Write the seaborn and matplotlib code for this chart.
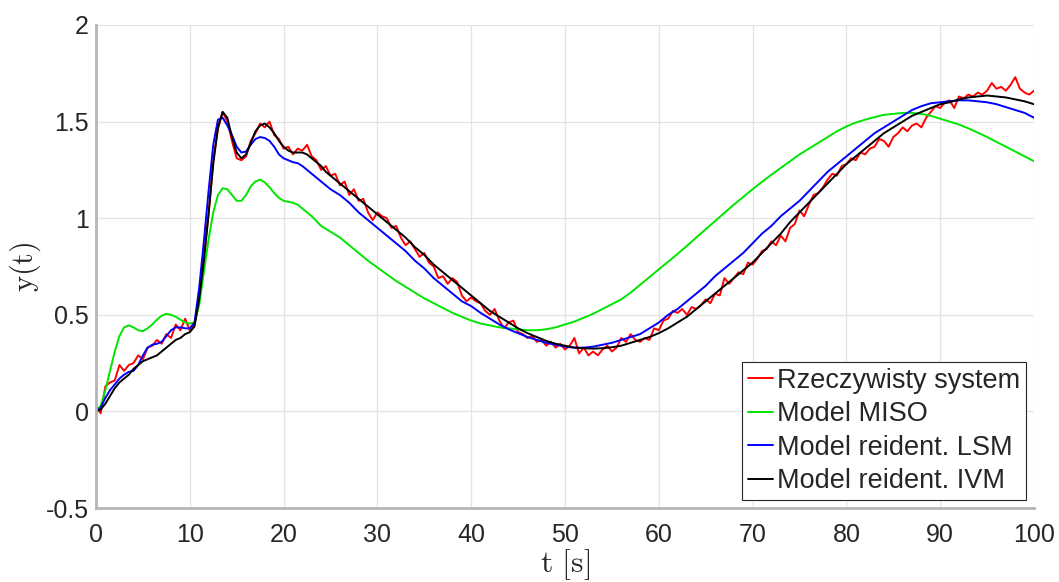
import numpy as np
import pandas as pd
import matplotlib
matplotlib.use("Agg")
import matplotlib.pyplot as plt
import seaborn as sns

# Rzeczywisty system (pomiar z szumem), krok 0.5 s
real_y = [
    0.03, -0.01, 0.13, 0.15, 0.16, 0.24, 0.21, 0.24, 0.25, 0.29,
    0.27, 0.33, 0.34, 0.37, 0.35, 0.40, 0.38, 0.45, 0.42, 0.48,
    0.42, 0.45, 0.57, 0.80, 1.02, 1.30, 1.46, 1.55, 1.50, 1.40,
    1.31, 1.30, 1.32, 1.40, 1.44, 1.49, 1.47, 1.50, 1.43, 1.41,
    1.36, 1.37, 1.33, 1.36, 1.35, 1.38, 1.32, 1.30, 1.25, 1.27,
    1.22, 1.23, 1.17, 1.19, 1.12, 1.15, 1.09, 1.10, 1.03, 0.99,
    1.03, 1.01, 1.00, 0.95, 0.96, 0.90, 0.86, 0.88, 0.84, 0.80,
    0.82, 0.77, 0.75, 0.69, 0.70, 0.66, 0.69, 0.67, 0.60, 0.57,
    0.59, 0.57, 0.56, 0.52, 0.50, 0.53, 0.47, 0.43, 0.46, 0.47,
    0.41, 0.40, 0.38, 0.39, 0.36, 0.37, 0.34, 0.36, 0.33, 0.35,
    0.32, 0.34, 0.38, 0.30, 0.33, 0.29, 0.31, 0.29, 0.32, 0.34,
    0.31, 0.33, 0.38, 0.36, 0.40, 0.37, 0.36, 0.38, 0.37, 0.43,
    0.42, 0.47, 0.48, 0.52, 0.51, 0.53, 0.50, 0.54, 0.53, 0.55,
    0.58, 0.56, 0.61, 0.60, 0.69, 0.66, 0.69, 0.72, 0.71, 0.77,
    0.76, 0.79, 0.83, 0.84, 0.88, 0.86, 0.91, 0.88, 0.95, 0.97,
    1.04, 1.01, 1.07, 1.12, 1.13, 1.16, 1.20, 1.23, 1.22, 1.27,
    1.28, 1.31, 1.30, 1.34, 1.33, 1.36, 1.37, 1.41, 1.40, 1.37,
    1.42, 1.44, 1.47, 1.45, 1.48, 1.49, 1.47, 1.52, 1.55, 1.58,
    1.57, 1.60, 1.61, 1.57, 1.63, 1.62, 1.64, 1.63, 1.65, 1.64,
    1.66, 1.70, 1.67, 1.68, 1.66, 1.69, 1.73, 1.67, 1.65, 1.64,
    1.66,
]
real_t = np.linspace(0, 100, len(real_y))

# modele - czasy wspolne
model_t = [
    0, 0.5, 1, 1.5, 2, 2.5, 3, 3.5, 4, 4.5, 5, 5.5, 6, 6.5, 7, 7.5, 8, 8.5, 9, 9.5,
    10, 10.5, 11, 11.5, 12, 12.5, 13, 13.5, 14, 14.5, 15, 15.5, 16, 16.5, 17, 17.5,
    18, 18.5, 19, 19.5, 20, 20.5, 21, 21.5, 22, 22.5, 23, 23.5, 24, 24.5, 25,
    26, 27, 28, 29, 30, 31, 32, 33, 34, 35, 36, 37, 38, 39, 40, 41, 42, 43, 44, 45,
    46, 47, 48, 49, 50, 51, 52, 53, 54, 55, 56, 57, 58, 59, 60, 61, 62, 63, 64, 65,
    66, 67, 68, 69, 70, 71, 72, 73, 74, 75, 76, 77, 78, 79, 80, 81, 82, 83, 84, 85,
    86, 87, 88, 89, 90, 91, 92, 93, 94, 95, 96, 97, 98, 99, 100,
]

miso_y = [
    0.00, 0.03, 0.11, 0.21, 0.31, 0.39, 0.435, 0.445, 0.435, 0.42, 0.415, 0.43, 0.45, 0.475, 0.495, 0.505, 0.50, 0.49, 0.475, 0.46,
    0.455, 0.46, 0.55, 0.72, 0.89, 1.03, 1.12, 1.155, 1.15, 1.12, 1.09, 1.09, 1.12, 1.165, 1.19, 1.20,
    1.185, 1.16, 1.13, 1.105, 1.09, 1.085, 1.08, 1.07, 1.05, 1.03, 1.01, 0.985, 0.96, 0.945, 0.93,
    0.90, 0.86, 0.82, 0.78, 0.745, 0.71, 0.675, 0.645, 0.615, 0.585, 0.56, 0.535, 0.51, 0.49, 0.47, 0.455, 0.445, 0.435, 0.43, 0.425,
    0.42, 0.42, 0.425, 0.435, 0.45, 0.465, 0.485, 0.505, 0.53, 0.555, 0.58, 0.615, 0.655, 0.695, 0.735, 0.775, 0.815, 0.857, 0.90, 0.943,
    0.985, 1.028, 1.07, 1.11, 1.15, 1.188, 1.225, 1.26, 1.295, 1.33, 1.36, 1.39, 1.42, 1.45, 1.475, 1.495, 1.51, 1.523, 1.535, 1.54,
    1.545, 1.545, 1.54, 1.53, 1.515, 1.50, 1.485, 1.465, 1.443, 1.42, 1.395, 1.37, 1.345, 1.32, 1.295,
]

lsm_y = [
    0.00, 0.02, 0.07, 0.11, 0.14, 0.17, 0.19, 0.205, 0.21, 0.24, 0.29, 0.33, 0.345, 0.35, 0.36, 0.39, 0.42, 0.435, 0.435, 0.43,
    0.43, 0.46, 0.64, 0.88, 1.14, 1.38, 1.51, 1.52, 1.48, 1.43, 1.37, 1.34, 1.345, 1.38, 1.41, 1.42,
    1.415, 1.40, 1.37, 1.33, 1.31, 1.30, 1.29, 1.285, 1.27, 1.25, 1.23, 1.21, 1.19, 1.17, 1.15,
    1.12, 1.08, 1.03, 0.99, 0.95, 0.91, 0.87, 0.83, 0.78, 0.74, 0.69, 0.65, 0.61, 0.57, 0.545, 0.51, 0.48, 0.45, 0.425, 0.405,
    0.385, 0.37, 0.355, 0.345, 0.335, 0.33, 0.33, 0.335, 0.345, 0.355, 0.37, 0.385, 0.40, 0.43, 0.46, 0.50, 0.53, 0.57, 0.61, 0.65,
    0.70, 0.74, 0.78, 0.82, 0.87, 0.92, 0.96, 1.01, 1.05, 1.09, 1.14, 1.19, 1.24, 1.28, 1.32, 1.36, 1.40, 1.44, 1.47, 1.50,
    1.53, 1.56, 1.58, 1.595, 1.60, 1.605, 1.61, 1.61, 1.605, 1.60, 1.59, 1.575, 1.56, 1.545, 1.52,
]

ivm_y = [
    0.00, 0.01, 0.04, 0.08, 0.12, 0.15, 0.17, 0.19, 0.22, 0.24, 0.26, 0.27, 0.28, 0.29, 0.31, 0.33, 0.35, 0.37, 0.38, 0.40,
    0.41, 0.44, 0.58, 0.78, 1.02, 1.28, 1.47, 1.55, 1.52, 1.42, 1.34, 1.31, 1.33, 1.39, 1.45, 1.48,
    1.49, 1.47, 1.44, 1.40, 1.37, 1.35, 1.34, 1.34, 1.34, 1.33, 1.31, 1.29, 1.27, 1.24, 1.22,
    1.18, 1.14, 1.10, 1.06, 1.02, 0.98, 0.94, 0.90, 0.85, 0.81, 0.76, 0.72, 0.68, 0.64, 0.60, 0.56, 0.52, 0.49, 0.46, 0.43,
    0.405, 0.385, 0.365, 0.35, 0.34, 0.33, 0.327, 0.325, 0.327, 0.332, 0.34, 0.355, 0.37, 0.385, 0.405, 0.43, 0.46, 0.49, 0.53, 0.57,
    0.61, 0.65, 0.69, 0.73, 0.77, 0.82, 0.87, 0.92, 0.98, 1.03, 1.08, 1.13, 1.18, 1.23, 1.28, 1.32, 1.36, 1.40, 1.44, 1.47,
    1.50, 1.53, 1.55, 1.57, 1.59, 1.60, 1.615, 1.625, 1.63, 1.635, 1.63, 1.625, 1.615, 1.605, 1.59,
]

labels = ["Rzeczywisty system", "Model MISO", "Model reident. LSM", "Model reident. IVM"]
colors = ["#ff0000", "#00e600", "#0000ff", "#000000"]

df = pd.concat([
    pd.DataFrame({"t": real_t, "y": real_y, "seria": labels[0]}),
    pd.DataFrame({"t": model_t, "y": miso_y, "seria": labels[1]}),
    pd.DataFrame({"t": model_t, "y": lsm_y, "seria": labels[2]}),
    pd.DataFrame({"t": model_t, "y": ivm_y, "seria": labels[3]}),
])

sns.set_theme(style="whitegrid")
plt.rcParams["font.family"] = ["Liberation Sans", "DejaVu Sans"]
plt.rcParams["mathtext.fontset"] = "cm"

fig, ax = plt.subplots(figsize=(10.59, 5.82), dpi=100)
fig.subplots_adjust(left=96 / 1059, right=1034 / 1059, bottom=1 - 508 / 582, top=1 - 25 / 582)

sns.lineplot(data=df, x="t", y="y", hue="seria", hue_order=labels, palette=colors,
             estimator=None, sort=False, linewidth=1.4, ax=ax)

ax.set_xlim(0, 100)
ax.set_ylim(-0.5, 2)
ax.set_xticks(np.arange(0, 101, 10))
ax.set_yticks([-0.5, 0, 0.5, 1, 1.5, 2])
ax.set_yticklabels(["-0.5", "0", "0.5", "1", "1.5", "2"])
ax.grid(True, color="#e3e3e3", linewidth=0.9)

for side in ["top", "right"]:
    ax.spines[side].set_visible(False)
for side in ["left", "bottom"]:
    ax.spines[side].set_color("#b5b5b5")
    ax.spines[side].set_linewidth(2)

ax.tick_params(axis="both", direction="in", length=5, width=0.8, color="#262626",
               labelsize=18, labelcolor="#262626")
ax.tick_params(axis="x", pad=11)
ax.tick_params(axis="y", pad=5)

ax.set_xlabel(r"$\mathrm{t}\ [\mathrm{s}]$", fontsize=23, color="#262626", labelpad=0)
ax.set_ylabel(r"$\mathrm{y(t)}$", fontsize=22, color="#262626", labelpad=2)

leg = ax.legend(loc="lower right", fontsize=19.5, frameon=True, fancybox=False,
                framealpha=1, edgecolor="#262626", handlelength=0.95, handletextpad=0.15,
                borderpad=0.2, labelspacing=0.28, borderaxespad=0.3)
leg.get_frame().set_linewidth(0.8)
for line in leg.get_lines():
    line.set_linewidth(1.4)

plt.savefig("out.png", dpi=100)
plt.close()
